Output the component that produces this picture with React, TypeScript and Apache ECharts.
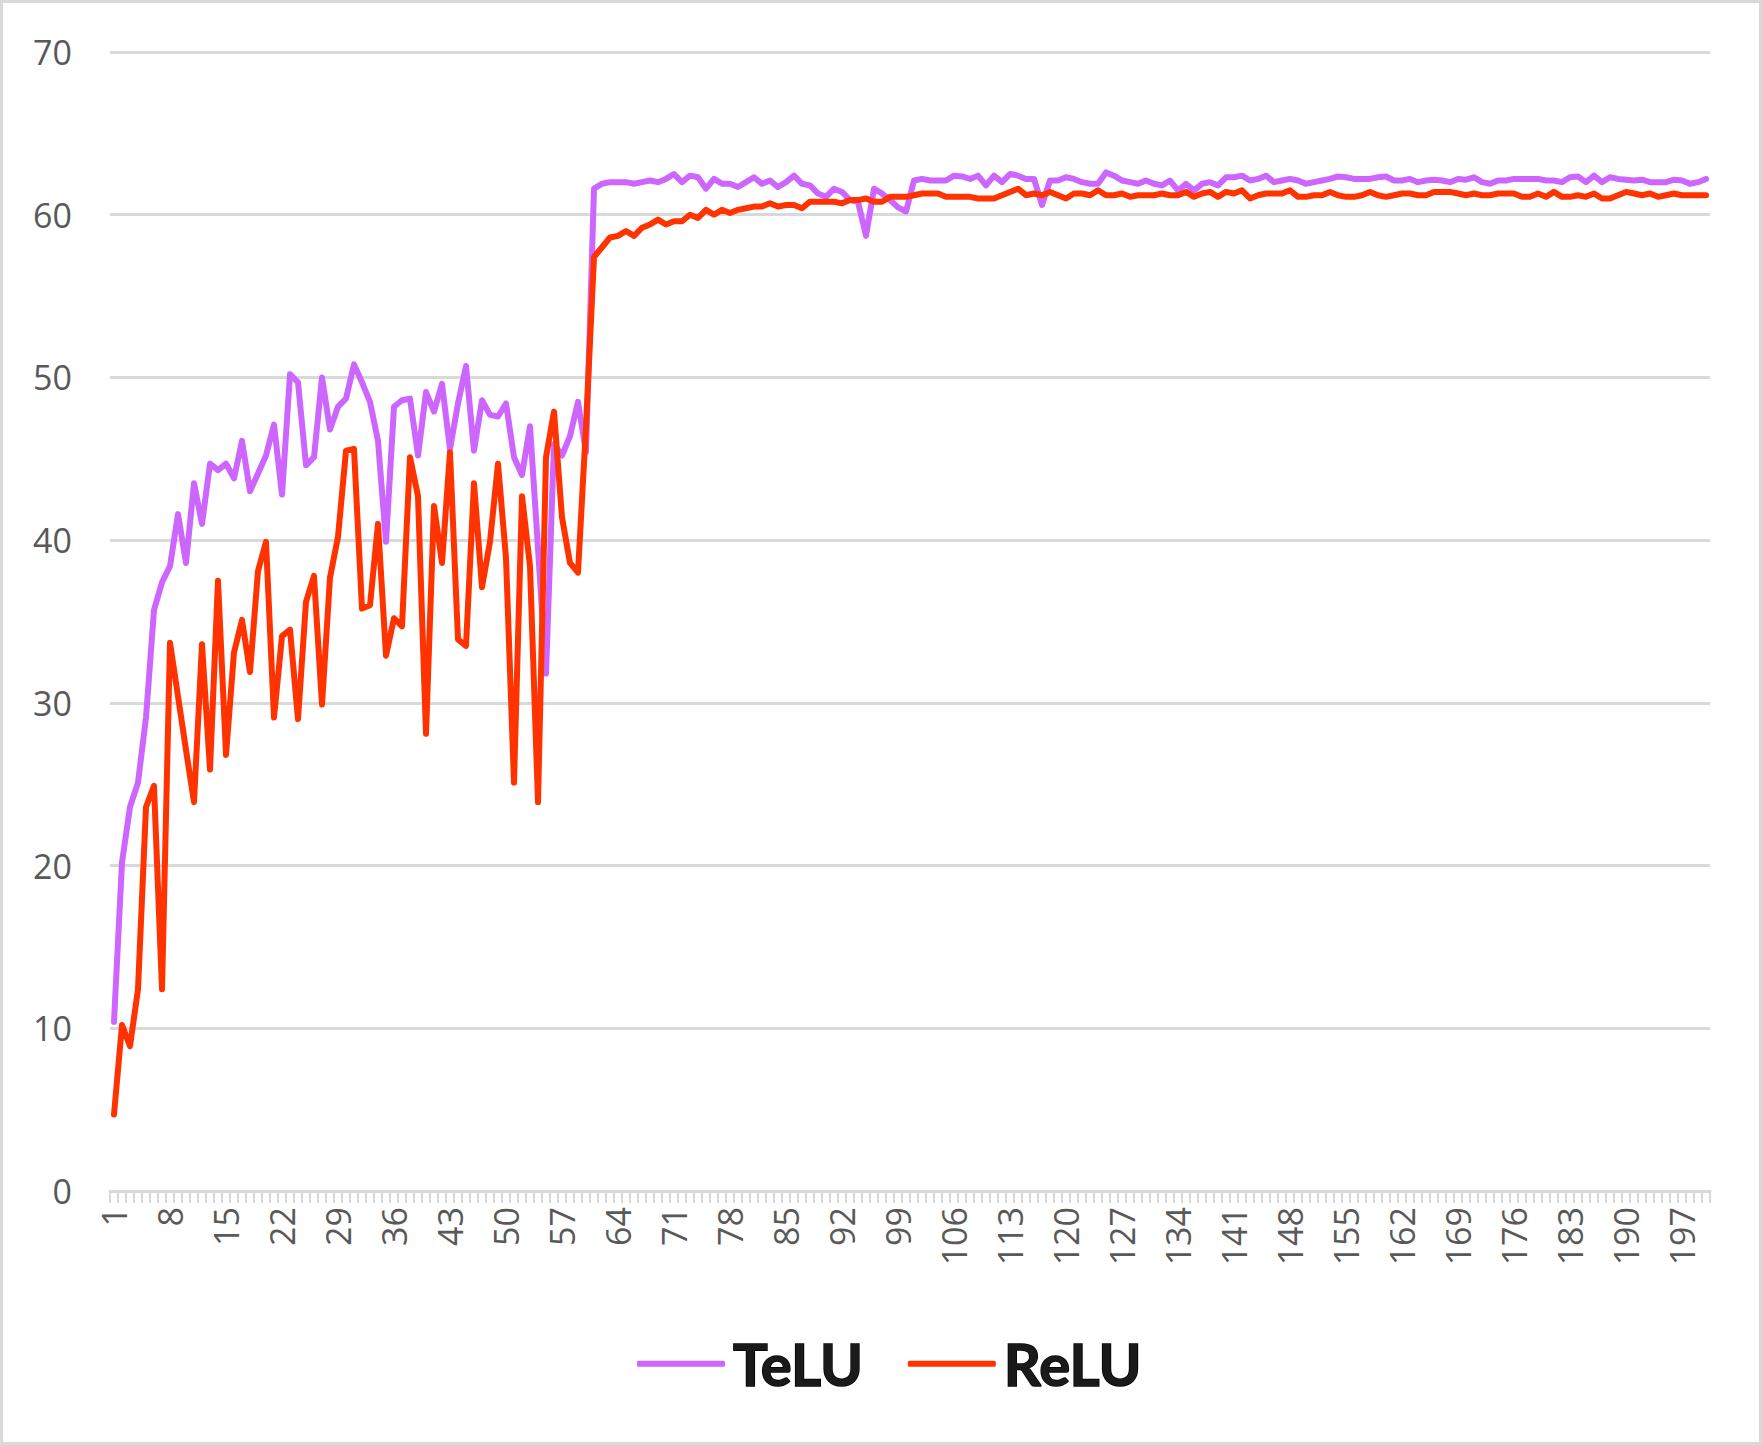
import React, { useEffect, useRef } from "react";
import * as echarts from "echarts";

const categories: string[] = Array.from({ length: 200 }, (_, i) => String(i + 1));

const telu: number[] = [
  10.4, 20.2, 23.6, 25.1, 29.1, 35.7, 37.4, 38.4, 41.6, 38.6,
  43.5, 41.0, 44.7, 44.3, 44.7, 43.8, 46.1, 43.0, 44.1, 45.2,
  47.1, 42.8, 50.2, 49.7, 44.6, 45.1, 50.0, 46.8, 48.2, 48.7,
  50.8, 49.7, 48.5, 46.1, 39.9, 48.2, 48.6, 48.7, 45.2, 49.1,
  47.9, 49.6, 45.6, 48.4, 50.7, 45.5, 48.6, 47.7, 47.6, 48.4,
  45.1, 44.0, 47.0, 39.5, 31.8, 45.9, 45.2, 46.4, 48.5, 45.4,
  61.6, 61.9, 62.0, 62.0, 62.0, 61.9, 62.0, 62.1, 62.0, 62.2,
  62.5, 62.0, 62.4, 62.3, 61.6, 62.2, 61.9, 61.9, 61.7, 62.0,
  62.3, 61.9, 62.1, 61.7, 62.0, 62.4, 61.9, 61.8, 61.3, 61.1,
  61.6, 61.4, 60.9, 60.8, 58.7, 61.6, 61.3, 60.9, 60.45, 60.2,
  62.1, 62.2, 62.1, 62.1, 62.1, 62.4, 62.35, 62.2, 62.4, 61.8,
  62.4, 62.0, 62.5, 62.4, 62.2, 62.2, 60.6, 62.1, 62.1, 62.3,
  62.2, 62.0, 61.9, 61.9, 62.6, 62.4, 62.1, 62.0, 61.9, 62.1,
  61.9, 61.8, 62.1, 61.5, 61.9, 61.5, 61.9, 62.0, 61.8, 62.3,
  62.3, 62.4, 62.1, 62.2, 62.4, 62.0, 62.1, 62.2, 62.1, 61.9,
  62.0, 62.1, 62.2, 62.35, 62.3, 62.2, 62.2, 62.2, 62.3, 62.35,
  62.1, 62.1, 62.2, 62.0, 62.1, 62.15, 62.1, 62.0, 62.2, 62.15,
  62.3, 62.0, 61.9, 62.1, 62.1, 62.2, 62.2, 62.2, 62.2, 62.1,
  62.1, 62.0, 62.3, 62.35, 62.0, 62.4, 62.0, 62.3, 62.2, 62.15,
  62.1, 62.15, 62.0, 62.0, 62.0, 62.15, 62.1, 61.9, 62.0, 62.2,
];

const relu: number[] = [
  4.7, 10.2, 8.9, 12.4, 23.6, 24.9, 12.4, 33.7, 30.4, 27.1,
  23.9, 33.6, 25.9, 37.5, 26.8, 33.1, 35.1, 31.9, 38.1, 39.9,
  29.1, 34.1, 34.5, 29.0, 36.2, 37.8, 29.9, 37.7, 40.2, 45.5,
  45.6, 35.8, 36.0, 41.0, 32.9, 35.2, 34.7, 45.1, 42.7, 28.1,
  42.1, 38.6, 45.4, 33.9, 33.5, 43.5, 37.1, 39.9, 44.7, 38.9,
  25.1, 42.7, 38.4, 23.9, 45.1, 47.9, 41.4, 38.6, 38.0, 47.0,
  57.4, 58.0, 58.6, 58.7, 59.0, 58.7, 59.2, 59.4, 59.7, 59.4,
  59.6, 59.6, 60.0, 59.8, 60.3, 60.0, 60.3, 60.1, 60.3, 60.4,
  60.5, 60.5, 60.7, 60.5, 60.6, 60.6, 60.4, 60.8, 60.8, 60.8,
  60.8, 60.7, 60.9, 60.9, 61.0, 60.8, 60.8, 61.1, 61.1, 61.1,
  61.2, 61.3, 61.3, 61.3, 61.1, 61.1, 61.1, 61.1, 61.0, 61.0,
  61.0, 61.2, 61.4, 61.6, 61.2, 61.3, 61.2, 61.4, 61.2, 61.0,
  61.3, 61.3, 61.2, 61.5, 61.2, 61.2, 61.3, 61.1, 61.2, 61.2,
  61.2, 61.3, 61.2, 61.2, 61.4, 61.1, 61.3, 61.4, 61.1, 61.4,
  61.3, 61.5, 61.0, 61.2, 61.3, 61.3, 61.3, 61.5, 61.1, 61.1,
  61.2, 61.2, 61.4, 61.2, 61.1, 61.1, 61.2, 61.4, 61.2, 61.1,
  61.2, 61.3, 61.3, 61.2, 61.2, 61.4, 61.4, 61.4, 61.3, 61.2,
  61.3, 61.2, 61.2, 61.3, 61.3, 61.3, 61.1, 61.1, 61.3, 61.1,
  61.4, 61.1, 61.1, 61.2, 61.1, 61.3, 61.0, 61.0, 61.2, 61.4,
  61.3, 61.2, 61.3, 61.1, 61.2, 61.3, 61.2, 61.2, 61.2, 61.2,
];

const seriesNames = ["TeLU", "ReLU"];
const seriesColors = ["#cc66ff", "#ff3300"];

const W = 1762;
const H = 1445;

export default function App() {
  const ref = useRef<HTMLDivElement>(null);
  useEffect(() => {
    document.body.style.margin = "0";
    if (!ref.current) return;
    const chart = echarts.init(ref.current, undefined, { renderer: "svg" });
    const axisFont = "'Open Sans', 'DejaVu Sans', sans-serif";
    chart.setOption({
      animation: false,
      backgroundColor: "#ffffff",
      grid: { left: 110, right: 52, top: 52, bottom: 254, containLabel: false },
      legend: {
        left: 632,
        top: 1329,
        itemGap: 44,
        itemWidth: 88,
        itemHeight: 6,
        icon: "roundRect",
        data: seriesNames,
        textStyle: {
          fontFamily: "Lato, 'Open Sans', sans-serif",
          fontWeight: "bold",
          fontSize: 58,
          color: "#1a1a1a",
          textBorderColor: "#000",
          textBorderWidth: 1.5,
          padding: [0, 0, 0, 3],
        },
      },
      xAxis: {
        type: "category",
        data: categories,
        boundaryGap: true,
        axisLine: { show: true, lineStyle: { color: "#d9d9d9", width: 3 } },
        axisTick: { show: true, interval: 0, length: 12, lineStyle: { color: "#d9d9d9", width: 2 } },
        axisLabel: {
          interval: 6,
          rotate: 90,
          margin: 16,
          fontFamily: axisFont,
          fontSize: 34,
          color: "#595959",
        },
        splitLine: { show: false },
      },
      yAxis: {
        type: "value",
        min: 0,
        max: 70,
        interval: 10,
        axisLine: { show: false },
        axisTick: { show: false },
        axisLabel: {
          margin: 38,
          fontFamily: axisFont,
          fontSize: 34,
          color: "#595959",
        },
        splitLine: { show: true, lineStyle: { color: "#d9d9d9", width: 3 } },
      },
      series: [
        {
          name: seriesNames[0],
          type: "line",
          data: telu,
          symbol: "none",
          color: seriesColors[0],
          lineStyle: { color: seriesColors[0], width: 6, cap: "round", join: "round" },
        },
        {
          name: seriesNames[1],
          type: "line",
          data: relu,
          symbol: "none",
          color: seriesColors[1],
          lineStyle: { color: seriesColors[1], width: 6, cap: "round", join: "round" },
        },
      ],
    });
    return () => chart.dispose();
  }, []);
  return (
    <div style={{ position: "relative", width: W, height: H, background: "#fff", overflow: "hidden" }}>
      <div ref={ref} style={{ position: "absolute", left: 0, top: 0, width: W, height: H }} />
      <div
        style={{
          position: "absolute",
          left: 0,
          top: 0,
          width: W,
          height: H,
          boxSizing: "border-box",
          border: "3px solid #d9d9d9",
          pointerEvents: "none",
        }}
      />
    </div>
  );
}
